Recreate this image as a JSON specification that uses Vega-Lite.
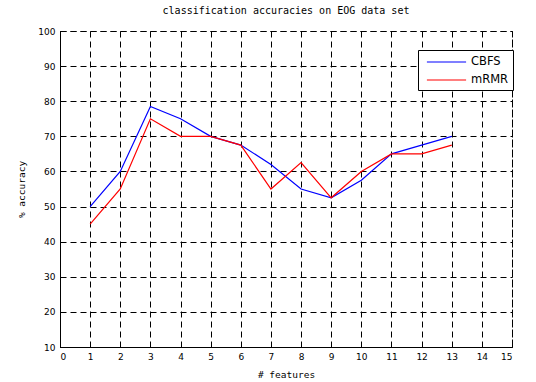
{
  "$schema": "https://vega.github.io/schema/vega-lite/v6.json",
  "autosize": {"type": "none"},
  "padding": {"left": 60, "top": 31, "right": 24, "bottom": 35},
  "width": 452,
  "height": 316,
  "background": "white",
  "title": {
    "text": "classification accuracies on EOG data set",
    "font": "DejaVu Sans Mono",
    "fontSize": 10,
    "fontWeight": "normal",
    "color": "#000000",
    "anchor": "middle",
    "offset": 11
  },
  "config": {
    "view": {"stroke": "#000000", "strokeDash": [6, 4], "strokeWidth": 1},
    "axis": {
      "labelFont": "DejaVu Sans",
      "labelFontSize": 9,
      "labelColor": "#000000",
      "titleFont": "DejaVu Sans Mono",
      "titleFontSize": 9.5,
      "titleFontWeight": "normal",
      "titleColor": "#000000",
      "domainColor": "#000000",
      "domainWidth": 1,
      "tickColor": "#000000",
      "tickSize": -4,
      "gridColor": "#000000",
      "gridDash": [6, 4],
      "gridOpacity": 1,
      "gridWidth": 1
    }
  },
  "data": {
    "values": [
      {"features": 1, "accuracy": 50, "method": "CBFS"},
      {"features": 2, "accuracy": 60, "method": "CBFS"},
      {"features": 3, "accuracy": 78.5, "method": "CBFS"},
      {"features": 4, "accuracy": 75, "method": "CBFS"},
      {"features": 5, "accuracy": 70, "method": "CBFS"},
      {"features": 6, "accuracy": 67.5, "method": "CBFS"},
      {"features": 7, "accuracy": 62, "method": "CBFS"},
      {"features": 8, "accuracy": 55, "method": "CBFS"},
      {"features": 9, "accuracy": 52.5, "method": "CBFS"},
      {"features": 10, "accuracy": 57.5, "method": "CBFS"},
      {"features": 11, "accuracy": 65, "method": "CBFS"},
      {"features": 12, "accuracy": 67.5, "method": "CBFS"},
      {"features": 13, "accuracy": 70, "method": "CBFS"},
      {"features": 1, "accuracy": 45, "method": "mRMR"},
      {"features": 2, "accuracy": 55, "method": "mRMR"},
      {"features": 3, "accuracy": 75, "method": "mRMR"},
      {"features": 4, "accuracy": 70, "method": "mRMR"},
      {"features": 5, "accuracy": 70, "method": "mRMR"},
      {"features": 6, "accuracy": 67.5, "method": "mRMR"},
      {"features": 7, "accuracy": 55, "method": "mRMR"},
      {"features": 8, "accuracy": 62.5, "method": "mRMR"},
      {"features": 9, "accuracy": 52.5, "method": "mRMR"},
      {"features": 10, "accuracy": 60, "method": "mRMR"},
      {"features": 11, "accuracy": 65, "method": "mRMR"},
      {"features": 12, "accuracy": 65, "method": "mRMR"},
      {"features": 13, "accuracy": 67.5, "method": "mRMR"}
    ]
  },
  "mark": {"type": "line", "strokeWidth": 1.2},
  "encoding": {
    "x": {
      "field": "features",
      "type": "quantitative",
      "scale": {"domain": [0, 15], "nice": false},
      "axis": {
        "title": "# features",
        "values": [0,1,2,3,4,5,6,7,8,9,10,11,12,13,14,15],
        "labelPadding": 9,
        "titlePadding": 8
      }
    },
    "y": {
      "field": "accuracy",
      "type": "quantitative",
      "scale": {"domain": [10, 100], "nice": false},
      "axis": {
        "title": "% accuracy",
        "values": [10,20,30,40,50,60,70,80,90,100],
        "labelPadding": 9,
        "titlePadding": 11
      }
    },
    "color": {
      "field": "method",
      "type": "nominal",
      "scale": {"domain": ["CBFS", "mRMR"], "range": ["#0000ff", "#ff0000"]},
      "legend": {
        "title": null,
        "orient": "none",
        "legendX": 358,
        "legendY": 19,
        "symbolType": "M-2.8,0H2.8",
        "symbolSize": 196,
        "symbolStrokeWidth": 1.2,
        "symbolOffset": 16.5,
        "labelFont": "DejaVu Sans",
        "labelFontSize": 11.5,
        "labelColor": "#000000",
        "labelOffset": 16.5,
        "strokeColor": "#000000",
        "fillColor": "#ffffff",
        "padding": 4,
        "rowPadding": 4
      }
    }
  }
}
